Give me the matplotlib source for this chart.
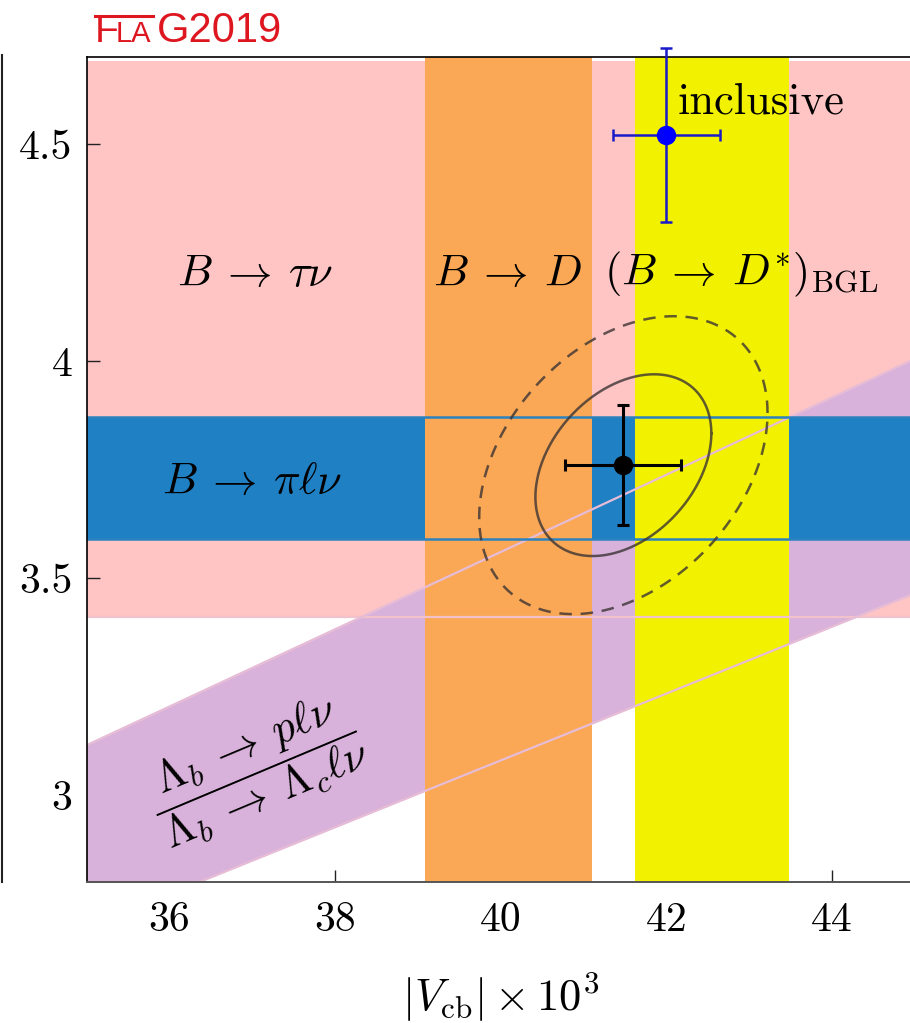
import numpy as np
import matplotlib.pyplot as plt
from matplotlib.lines import Line2D

plt.rcParams['mathtext.fontset'] = 'cm'
plt.rcParams['axes.formatter.use_mathtext'] = True

# |Vub| x 10^3 bands (lo, hi)
vub_taunu = (3.41, 4.69)
vub_pilnu = (3.59, 3.87)
# |Vcb| x 10^3 bands (lo, hi)
vcb_BD = (39.08, 41.10)
vcb_BDstar = (41.62, 43.48)
# Lambda_b ratio |Vub/Vcb| (lo, hi)
ratio_lam = (0.077, 0.089)

# combined fit: central values, errors, correlation
fit_vcb, fit_vcb_err = 41.48, 0.70
fit_vub, fit_vub_err = 3.76, 0.138
fit_rho = 0.35
# inclusive determinations
incl_vcb, incl_vcb_err = 42.00, 0.65
incl_vub, incl_vub_err = 4.52, 0.20

x_ticks = [36, 38, 40, 42, 44]
x_tick_labels = ['36', '38', '40', '42', '44']
y_ticks = [3, 3.5, 4, 4.5]
y_tick_labels = ['3', '3.5', '4', '4.5']

c_pink = '#FFC4C4'
c_blue = '#1F80C4'
c_orange = '#FAA855'
c_yellow = '#F2F200'
c_purple = '#D8B2DA'

fig = plt.figure(figsize=(9.1, 10.23), dpi=100)
ax = fig.add_axes([86.5 / 910, 1 - 882 / 1023, (915 - 86.5) / 910, (882 - 57) / 1023])
xlim = (35, 45)
ylim = (2.8, 4.7)

# fills
ax.axhspan(*vub_taunu, color=c_pink, lw=0, zorder=1)
xs = np.array(xlim)
ax.fill_between(xs, ratio_lam[0] * xs, ratio_lam[1] * xs, color=c_purple, lw=0, zorder=2)
ax.axhspan(*vub_pilnu, color=c_blue, lw=0, zorder=3)
ax.axvspan(*vcb_BD, color=c_orange, lw=0, zorder=4)
ax.axvspan(*vcb_BDstar, color=c_yellow, lw=0, zorder=5)

# band edges drawn on top
ax.axhline(vub_taunu[0], color='#F2C2CC', lw=1.6, zorder=6)
for r in ratio_lam:
    ax.plot(xs, r * xs, color='#E6BCD6', lw=1.6, zorder=6)
for v in vub_pilnu:
    ax.axhline(v, color='#2C82BE', lw=1.8, zorder=6)

# fit ellipses (68% and 95% CL)
t = np.linspace(0, 2 * np.pi, 300)
for k, ls in [(np.sqrt(2.30), '-'), (np.sqrt(6.18), (0, (5, 3.5)))]:
    ex = fit_vcb + k * fit_vcb_err * np.cos(t)
    ey = fit_vub + k * fit_vub_err * (fit_rho * np.cos(t) + np.sqrt(1 - fit_rho**2) * np.sin(t))
    ax.plot(ex, ey, color='#3C3434', lw=1.8, ls=ls, alpha=0.8, zorder=7)

ax.errorbar(fit_vcb, fit_vub, xerr=fit_vcb_err, yerr=fit_vub_err, fmt='o', color='black',
            ms=13, lw=2.2, capsize=4.5, capthick=2.2, zorder=8)
eb = ax.errorbar(incl_vcb, incl_vub, xerr=incl_vcb_err, yerr=incl_vub_err, fmt='o', color='#0000FF',
                 ecolor='#1A1AC8', ms=13, lw=1.8, capsize=4.5, capthick=1.8, zorder=11)
for a in eb.get_children():
    a.set_clip_on(False)

fs = 32
ax.text(37.03, 4.173, r'$B\:\to\:\tau\nu$', fontsize=fs, ha='center', va='baseline', zorder=9)
ax.text(40.08, 4.173, r'$B\:\to\:D$', fontsize=fs, ha='center', va='baseline', zorder=9)
ax.text(42.9, 4.173, r'$(B\:\to\:D^{*})_{\rm BGL}$', fontsize=fs, ha='center', va='baseline', zorder=9)
ax.text(37.0, 3.694, r'$B\:\to\:\pi\ell\nu$', fontsize=fs, ha='center', va='baseline', zorder=9)
ax.text(42.13, 4.571, 'inclusive', fontsize=32, family='cmr10', ha='left', va='baseline', zorder=9)
ax.text(37.05, 3.057, r'$\dfrac{\Lambda_b\:\to\:p\ell\nu}{\Lambda_b\:\to\:\Lambda_c\ell\nu}$',
        fontsize=fs, ha='center', va='center', rotation=22.8, rotation_mode='anchor', zorder=9)

ax.set_xlim(*xlim)
ax.set_ylim(*ylim)
ax.set_xticks(x_ticks, x_tick_labels, family='cmr10', fontsize=30)
ax.set_yticks(y_ticks, y_tick_labels, family='cmr10', fontsize=30)
ax.tick_params(direction='in', length=9, width=1, color='#222222')
ax.tick_params(axis='x', pad=14)
ax.tick_params(axis='y', pad=10)
ax.set_xlabel(r'$|V_{\rm cb}| \times 10^3$', fontsize=32)
ax.xaxis.set_label_coords(0.5, -0.14)
ax.xaxis.label.set_va('center')

for s in ['left', 'top']:
    ax.spines[s].set_color('black')
    ax.spines[s].set_linewidth(1.2)
ax.spines['bottom'].set_color('#555555')
ax.spines['bottom'].set_linewidth(1.4)
ax.spines['right'].set_visible(False)
for s in ax.spines.values():
    s.set_zorder(10)

# FLAG logo
red = '#DD1620'
yb = 1 - 42 / 1023
fig.text(95 / 910, yb, 'F', color=red, fontsize=28, family='Liberation Sans', va='baseline')
fig.text(116 / 910, yb, 'LA', color=red, fontsize=21, family='Liberation Sans', va='baseline')
fig.text(157 / 910, yb, 'G2019', color=red, fontsize=30, family='Liberation Sans', va='baseline')
fig.add_artist(Line2D([95 / 910, 153 / 910], [1 - 15.5 / 1023] * 2, color=red, lw=2.2,
                      transform=fig.transFigure))

# edge of neighbouring panel
fig.add_artist(Line2D([1.5 / 910] * 2, [1 - 55 / 1023, 1 - 882 / 1023], color='#222222', lw=1.5,
                      transform=fig.transFigure))

fig.savefig('out.png', dpi=100)
